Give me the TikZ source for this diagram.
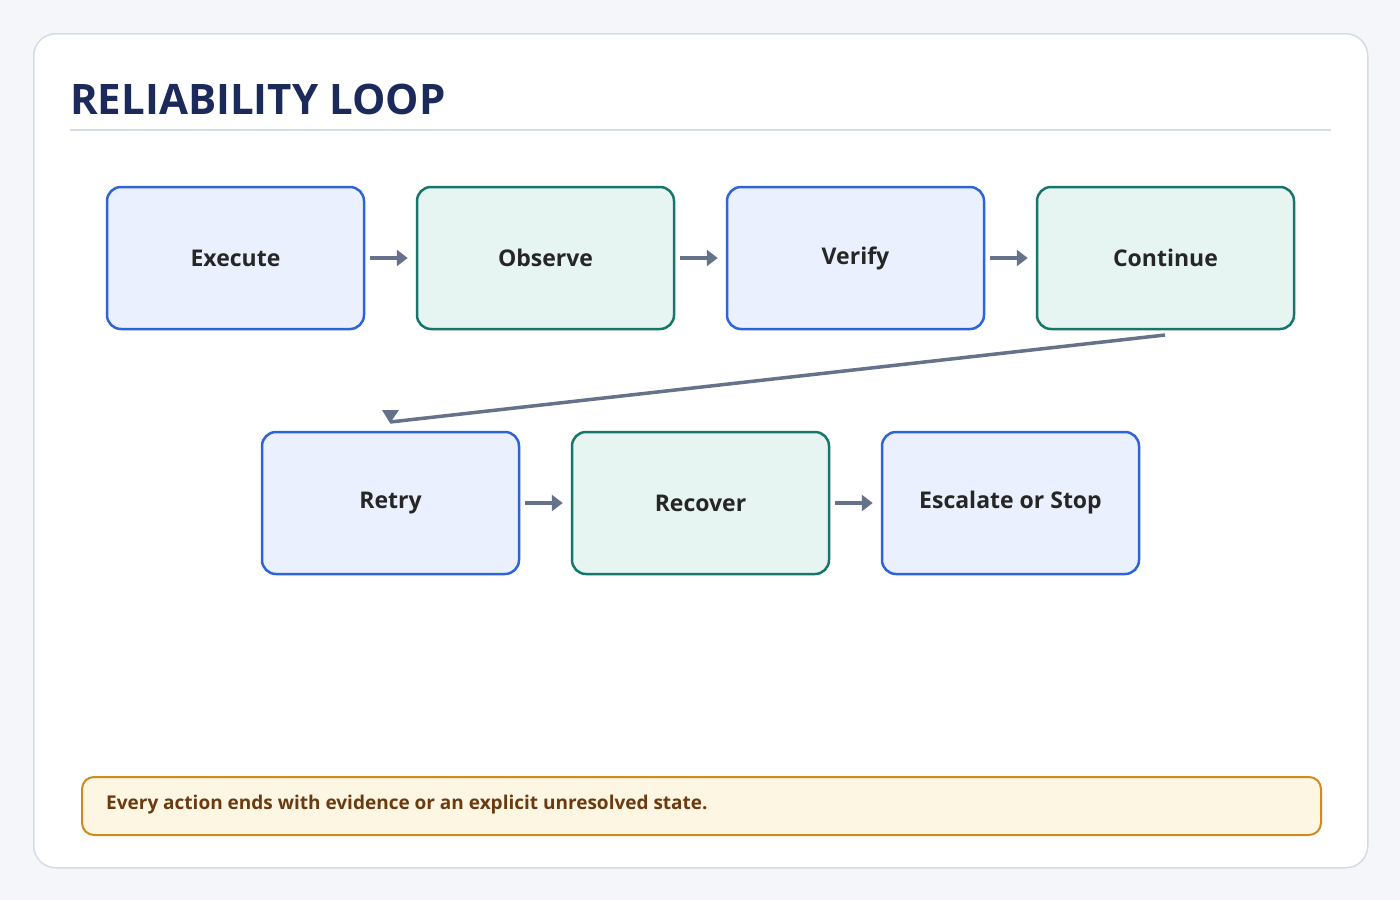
\documentclass[tikz,border=0pt]{standalone}
\usepackage{fontspec}
\setmainfont{Open Sans}
\usetikzlibrary{arrows.meta}
\definecolor{bgc}{HTML}{F4F6FA}\definecolor{cardb}{HTML}{D5DBE6}
\definecolor{ttl}{HTML}{1B2A5A}\definecolor{rule}{HTML}{D5DCE6}
\definecolor{bbd}{HTML}{2F63D8}\definecolor{bbf}{HTML}{EAF0FD}
\definecolor{tbd}{HTML}{17766A}\definecolor{tbf}{HTML}{E6F5F1}
\definecolor{arc}{HTML}{65728A}
\definecolor{nbd}{HTML}{D08A1F}\definecolor{nbf}{HTML}{FDF6E3}\definecolor{ntx}{HTML}{6B3A10}
\begin{document}
\begin{tikzpicture}[x=1pt,y=-1pt,
  box/.style={draw,line width=2.5pt,rounded corners=14pt,minimum width=257pt,minimum height=142pt,font=\bfseries\fontsize{23}{27}\selectfont,text=black!85},
  bl/.style={box,draw=bbd,fill=bbf},
  tl/.style={box,draw=tbd,fill=tbf},
  arr/.style={draw=arc,line width=3.5pt,-{Triangle[length=11pt,width=16pt]},shorten <=5pt,shorten >=8pt}]
\fill[bgc] (0,0) rectangle (1400,900);
\path[use as bounding box] (0,0) rectangle (1400,900);
\node[draw=cardb,line width=1.5pt,fill=white,rounded corners=22pt,minimum width=1334pt,minimum height=834pt,anchor=north west] (card) at (33,33) {};
\node[anchor=base west,inner sep=0,font=\bfseries\fontsize{42}{50}\selectfont,text=ttl] (title) at (70,114) {RELIABILITY LOOP};
\draw[rule,line width=2pt] (70,130) -- (1331,130);
\node[bl] (ex) at (235.5,258) {Execute};
\node[tl] (ob) at (545.5,258) {Observe};
\node[bl] (ve) at (855.5,258) {Verify};
\node[tl] (co) at (1165.5,258) {Continue};
\node[bl] (re) at (390.5,503) {Retry};
\node[tl] (rc) at (700.5,503) {Recover};
\node[bl] (es) at (1010.5,503) {Escalate or Stop};
\draw[arr] (ex) -- (ob);
\draw[arr] (ob) -- (ve);
\draw[arr] (ve) -- (co);
\draw[arr] (re) -- (rc);
\draw[arr] (rc) -- (es);
\coordinate (cb) at (1165,335);
\coordinate (rt) at (390,422);
\draw[arc,line width=3.5pt] (cb) -- (rt);
\fill[arc] (382,410) -- (399,410) -- (390,423) -- cycle;
\node[draw=nbd,line width=2pt,fill=nbf,rounded corners=12pt,minimum width=1239pt,minimum height=58pt,anchor=north west] (note) at (81,776) {};
\node[anchor=west,inner sep=0,font=\bfseries\fontsize{19}{23}\selectfont,text=ntx] (nt) at (106,805) {Every action ends with evidence or an explicit unresolved state.};
\end{tikzpicture}
\end{document}
